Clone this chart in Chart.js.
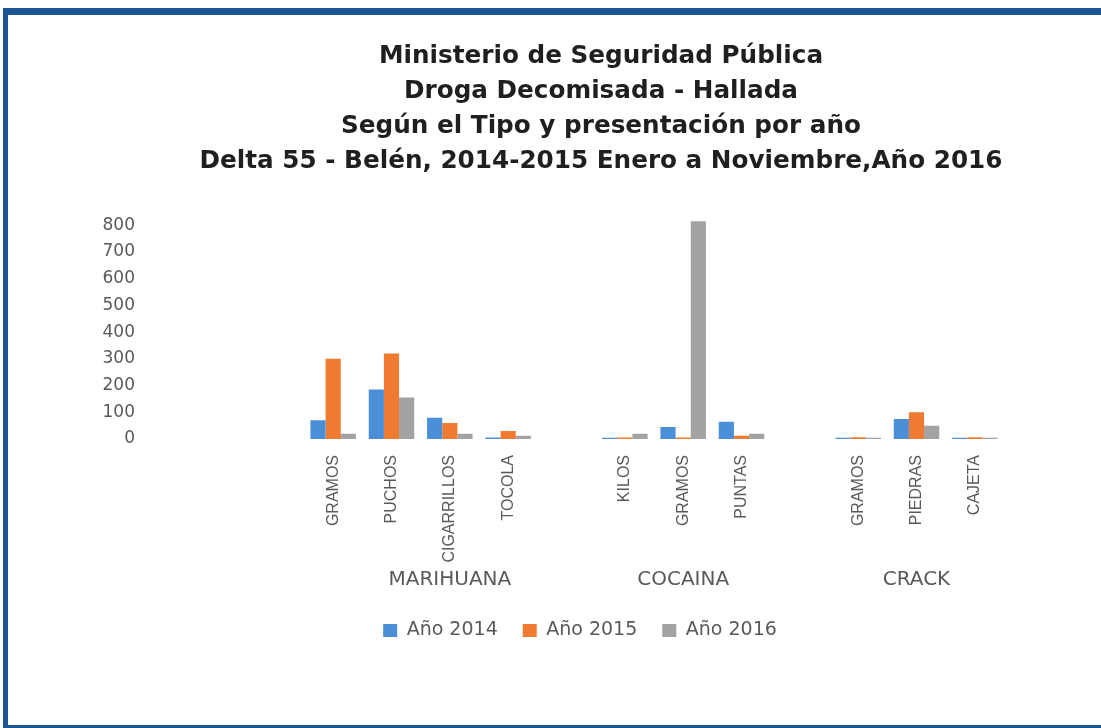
<!DOCTYPE html>
<html>
<head>
<meta charset="utf-8">
<script src="https://cdn.jsdelivr.net/npm/chart.js@4.4.1/dist/chart.umd.min.js"></script>
<style>
  html, body { margin: 0; padding: 0; background: #fff; overflow: hidden; }
  #wrap { position: relative; width: 1101px; height: 728px; overflow: hidden; }
  #frame {
    position: absolute; left: 3px; top: 8px; width: 1200px; height: 710px;
    border-top: 7px solid #1b5596; border-left: 5px solid #1b5596; border-bottom: 5px solid #1b5596;
  }
  #chart1 { position: absolute; left: 0; top: 0; }
</style>
</head>
<body>
<div id="wrap">
  <div id="frame"></div>
  <canvas id="chart1" width="1200" height="728"></canvas>
</div>
<script>
// presentaciones (con huecos entre tipos de droga)
const categorias = ["GRAMOS", "PUCHOS", "CIGARRILLOS", "TOCOLA", "", "KILOS", "GRAMOS", "PUNTAS", "", "GRAMOS", "PIEDRAS", "CAJETA"];
const tiposDroga = ["", "", "MARIHUANA", "", "", "", "COCAINA", "", "", "", "CRACK", ""];

const anio2014 = [70, 185, 80, 6, null, 5, 45, 65, null, 5, 75, 5];
const anio2015 = [300, 320, 60, 30, null, 6, 6, 12, null, 7, 100, 7];
const anio2016 = [20, 155, 20, 12, null, 20, 815, 20, null, 5, 50, 5];

const yTicks = [0, 100, 200, 300, 400, 500, 600, 700, 800];

const titulo = [
  "Ministerio de Seguridad Pública",
  "Droga Decomisada - Hallada",
  "Según el Tipo y presentación por año",
  "Delta 55 - Belén, 2014-2015 Enero a Noviembre,Año 2016",
];

const gris = "#595959";
const ctx = document.getElementById("chart1");

// la leyenda del original queda un poco a la izquierda del titulo
const correrLeyenda = {
  id: "correrLeyenda",
  afterLayout(chart) {
    chart.legend.left -= 21;
    chart.legend.right -= 21;
  },
};

new Chart(ctx, {
  type: "bar",
  data: {
    labels: categorias,
    datasets: [
      { label: "Año 2014", data: anio2014, backgroundColor: "#4a8fd8" },
      { label: "Año 2015", data: anio2015, backgroundColor: "#ee7b2f" },
      { label: "Año 2016", data: anio2016, backgroundColor: "#a3a3a3" },
    ],
  },
  options: {
    responsive: false,
    animation: false,
    datasets: {
      bar: { barPercentage: 1, categoryPercentage: 0.78 },
    },
    layout: { padding: { left: 90, right: 88, top: 20, bottom: 78 } },
    plugins: {
      title: {
        display: true,
        text: titulo,
        color: "#1f1f1f",
        font: { family: "DejaVu Sans", size: 24.7, weight: "bold", lineHeight: 1.42 },
        padding: { top: 19, bottom: 38 },
      },
      legend: {
        position: "bottom",
        labels: {
          boxWidth: 14,
          boxHeight: 13,
          color: gris,
          padding: 25,
          font: { family: "DejaVu Sans", size: 19 },
        },
      },
      tooltip: { enabled: false },
    },
    scales: {
      x: {
        grid: { display: false, drawTicks: false },
        border: { display: false },
        ticks: {
          color: gris,
          autoSkip: false,
          minRotation: 90,
          maxRotation: 90,
          padding: 16,
          font: { family: "Liberation Sans", size: 16 },
        },
        afterFit: (scale) => { scale.height = 125; },
      },
      x2: {
        type: "category",
        labels: tiposDroga,
        position: "bottom",
        weight: 1,
        offset: true,
        grid: { display: false, drawTicks: false },
        border: { display: false },
        ticks: {
          color: gris,
          autoSkip: false,
          maxRotation: 0,
          padding: 4,
          font: { family: "DejaVu Sans", size: 20 },
        },
        afterFit: (scale) => { scale.height = 32; },
      },
      y: {
        min: 0,
        max: 830,
        grid: { display: false, drawTicks: false },
        border: { display: false },
        ticks: {
          color: gris,
          padding: 169,
          font: { family: "DejaVu Sans", size: 17 },
        },
        afterBuildTicks: (scale) => { scale.ticks = yTicks.map((v) => ({ value: v })); },
        afterFit: (scale) => { scale.width = 214; },
      },
      yRight: {
        position: "right",
        grid: { display: false, drawTicks: false },
        border: { display: false },
        ticks: { display: false },
        afterFit: (scale) => { scale.width = 108; },
      },
    },
  },
  plugins: [correrLeyenda],
});
</script>
</body>
</html>
